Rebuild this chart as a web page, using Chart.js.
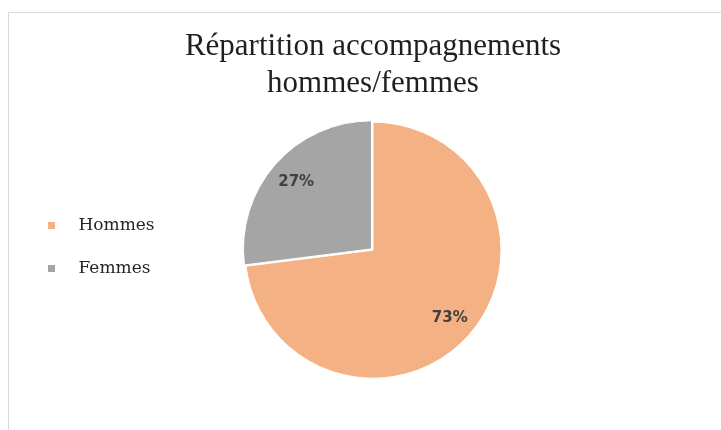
<!DOCTYPE html>
<html>
<head>
<meta charset="utf-8">
<script src="https://cdn.jsdelivr.net/npm/chart.js@4.4.1/dist/chart.umd.min.js"></script>
<style>
  html, body { margin: 0; padding: 0; background: #fff; overflow: hidden; }
  .frame {
    position: absolute; left: 8px; top: 12px; width: 724px; height: 420px;
    border-left: 1px solid #d9d9d9; border-top: 1px solid #d9d9d9;
  }
  canvas { display: block; }
</style>
</head>
<body>
<div class="frame"><canvas id="pieChart" width="724" height="420"></canvas></div>
<script>
const titleLines = ['Répartition accompagnements', 'hommes/femmes'];
const categories = ['Hommes', 'Femmes'];
const shares = [73, 27];
const sliceColors = ['#F4B183', '#A5A5A5'];
const sliceOffsets = [0, 8];

// little legend swatch: square on the left of a wider box, so the text sits further right
const makeSwatch = (color) => {
    const c = document.createElement('canvas');
    c.width = 22;
    c.height = 7;
    const g = c.getContext('2d');
    g.fillStyle = color;
    g.fillRect(0, 0, 7, 7);
    return c;
};

// the chartArea legend gets its top reset to 0 on update, pin it back to the area
const legendInArea = {
    id: 'legendInArea',
    afterLayout(chart) {
        const area = chart.chartArea;
        chart.legend.top = area.top - 6;
        chart.legend.bottom = area.bottom;
    }
};

// percentage labels inside the slices
const sliceLabels = {
    id: 'sliceLabels',
    afterDatasetsDraw(chart) {
        const ctx = chart.ctx;
        const meta = chart.getDatasetMeta(0);
        const total = shares.reduce((a, b) => a + b, 0);
        ctx.save();
        ctx.font = 'bold 15px "DejaVu Sans"';
        ctx.fillStyle = '#404040';
        ctx.textAlign = 'center';
        ctx.textBaseline = 'middle';
        meta.data.forEach((arc, i) => {
            const p = arc.getProps(['x', 'y', 'startAngle', 'endAngle', 'outerRadius'], true);
            const mid = (p.startAngle + p.endAngle) / 2;
            const r = p.outerRadius * 0.8;
            const pct = Math.round(shares[i] / total * 100) + '%';
            ctx.fillText(pct, p.x + Math.cos(mid) * r, p.y + Math.sin(mid) * r);
        });
        ctx.restore();
    }
};

document.addEventListener('DOMContentLoaded', () => {
    if (typeof Chart === 'undefined') return;

    const ctx = document.getElementById('pieChart');
    window.pieChart = new Chart(ctx, {
        type: 'pie',
        data: {
            labels: categories,
            datasets: [{
                data: shares,
                backgroundColor: sliceColors,
                borderColor: '#ffffff',
                borderWidth: 1,
                offset: sliceOffsets,
                hoverOffset: 0
            }]
        },
        options: {
            responsive: false,
            animation: false,
            events: [],
            radius: 128,
            layout: { padding: { left: 13, right: 9, top: 0, bottom: 45 } },
            plugins: {
                title: {
                    display: true,
                    text: titleLines,
                    color: '#1f1f1f',
                    font: { family: '"Liberation Serif"', size: 31, weight: 'normal', lineHeight: 1.2 },
                    padding: { top: 15, bottom: 10 }
                },
                legend: {
                    position: 'chartArea',
                    labels: {
                        color: '#262626',
                        font: { family: '"DejaVu Serif"', size: 17 },
                        usePointStyle: true,
                        pointStyleWidth: 22,
                        boxHeight: 7,
                        padding: 26,
                        generateLabels(chart) {
                            const items = Chart.overrides.pie.plugins.legend.labels.generateLabels(chart);
                            items.forEach(it => { it.pointStyle = makeSwatch(it.fillStyle); });
                            return items;
                        }
                    }
                },
                tooltip: { enabled: false }
            }
        },
        plugins: [legendInArea, sliceLabels]
    });
});
</script>
</body>
</html>
